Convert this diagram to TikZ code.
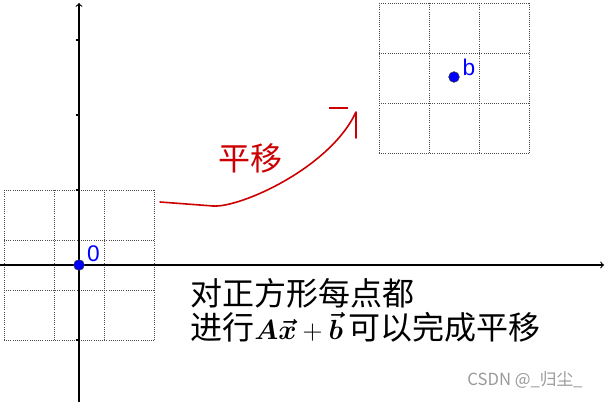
\documentclass[tikz,border=0pt]{standalone}
\usepackage{amsmath}
\usepackage{fontspec}
\newfontfamily\cjk{Noto Sans CJK SC}
\newfontfamily\lab{Liberation Sans}
\tikzset{
	gridline/.style={densely dotted, line width=0.6pt, black!70},
	dotpt/.style={circle, fill=blue, draw=black!80, line width=0.4pt, inner sep=0pt, minimum size=8pt},
	ptlabel/.style={text=blue, font=\lab\fontsize{17}{17}\selectfont, inner sep=0pt},
	bigtext/.style={font=\cjk\fontsize{24}{24}\selectfont, inner sep=0pt}
}
\newcommand{\movemath}{{\fontsize{22.5}{22.5}\selectfont$\boldsymbol{A}\boldsymbol{\vec{x}}+\boldsymbol{\vec{b}}$\,}}

\begin{document}
\begin{tikzpicture}[x=0.75pt,y=0.75pt,yscale=-1,xscale=1]
\useasboundingbox (0,0) rectangle (605,402);

% squares before and after the move
\foreach \k in {0,50,100,150} {
	\draw [gridline] (4+\k,190) -- (4+\k,340);
	\draw [gridline] (4,190+\k) -- (154,190+\k);
	\draw [gridline] (379+\k,3) -- (379+\k,153);
	\draw [gridline] (379,3+\k) -- (529,3+\k);
}

% axes
\coordinate (xl) at (0,265);
\coordinate (xr) at (604,265);
\coordinate (yb) at (79,402);
\coordinate (yt) at (79,3);
\draw [line width=0.9pt, ->] (xl) -- (xr);
\draw [line width=0.9pt, ->] (yb) -- (yt);
\foreach \t in {40,115,190,340} {
	\draw [line width=0.9pt] (75.5,\t) -- (79,\t);
}

% points
\node [dotpt] (o) at (79,265) {};
\node [ptlabel] (olab) at (93.5,254) {0};
\node [dotpt] (b) at (454,77) {};
\node [ptlabel] (blab) at (469,67) {b};

% hand drawn arrow
\coordinate (s) at (160,202);
\coordinate (m) at (213,206);
\coordinate (e) at (356,112);
\coordinate (eb) at (356,138);
\coordinate (dl) at (329,108);
\coordinate (dr) at (348,108);
\draw [red!80!black, line width=1.2pt, line cap=round, line join=round] (s) -- (m) .. controls (240,208) and (330,168) .. (e) -- (eb);
\draw [red!80!black, line width=1.2pt] (dl) -- (dr);
\node [bigtext, text=red!80!black] (move) at (250,158) {平移};

% text
\node [bigtext, anchor=west] (line1) at (190,293) {对正方形每点都};
\node [bigtext, anchor=west] (line2) at (190,327) {进行\movemath 可以完成平移};

\node [font=\cjk\fontsize{12.5}{12.5}\selectfont, text=black!40, inner sep=0pt] (mark) at (525,380) {CSDN @\_归尘\_};

\end{tikzpicture}
\end{document}
